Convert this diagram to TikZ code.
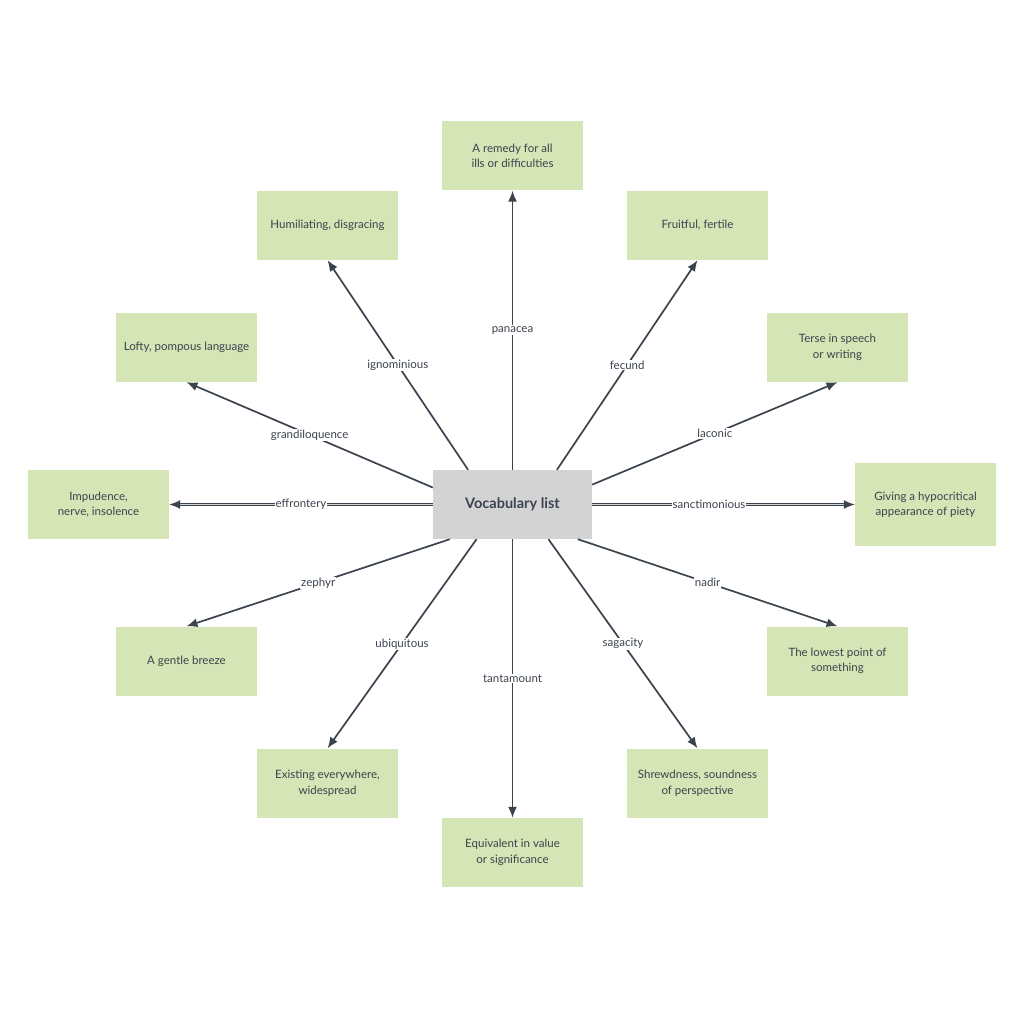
\documentclass[tikz,border=0pt]{standalone}
\usepackage{fontspec}
\setmainfont{Lato}
\usetikzlibrary{arrows.meta}
\definecolor{leaf}{RGB}{213,229,181}
\definecolor{slate}{RGB}{59,67,78}
\definecolor{ash}{RGB}{211,211,211}
\begin{document}
\begin{tikzpicture}[x=1pt,y=-1pt, font=\fontsize{11.5}{15.5}\selectfont, line join=round,
	word/.style={fill=leaf, minimum width=141pt, minimum height=69pt, inner sep=0pt, align=center, text=slate},
	link/.style={-{Latex[length=11pt,width=9pt]}, line width=1.7pt, draw=slate},
	twin/.style={link, double=ash, double distance=0.8pt, line width=1.2pt},
	tag/.style={fill=white, inner sep=1pt, text=slate}]
		\useasboundingbox (0,0) rectangle (1024,1024);
		% centre
		\node[fill=ash, minimum width=159pt, minimum height=69pt, inner sep=0pt, text=slate, font=\fontsize{14.5}{16}\selectfont\bfseries] (voc) at (512.5,504.5) {Vocabulary list};
		% definitions
		\node[word] (pan) at (512.5,156) {A remedy for all\\ills or difficulties};
		\node[word] (fec) at (697.5,225.5) {Fruitful, fertile};
		\node[word] (lac) at (837.5,347.5) {Terse in speech\\or writing};
		\node[word, minimum height=83pt] (san) at (925.5,504.5) {Giving a hypocritical\\appearance of piety};
		\node[word] (nad) at (837.5,661) {The lowest point of\\something};
		\node[word] (sag) at (697.5,783) {Shrewdness, soundness\\of perspective};
		\node[word] (tan) at (512.5,852.5) {Equivalent in value\\or significance};
		\node[word] (ubi) at (327.5,783) {Existing everywhere,\\widespread};
		\node[word] (zep) at (186.5,661) {A gentle breeze};
		\node[word] (eff) at (98.5,504.5) {Impudence,\\nerve, insolence};
		\node[word] (gra) at (186.5,347.5) {Lofty, pompous language};
		\node[word] (ign) at (327.5,225.5) {Humiliating, disgracing};
		% words
		\draw[link] (voc.north) -- node[tag]{panacea} (pan.south);
		\draw[link] (voc.38) -- node[tag]{fecund} (fec.south);
		\draw[link] (voc.14.5) -- node[tag]{laconic} (lac.south);
		\draw[twin] (voc.east) -- node[tag, pos=0.445]{sanctimonious} (san.west);
		\draw[link] (voc.-28.5) -- node[tag]{nadir} (nad.north);
		\draw[link] (voc.-44) -- node[tag]{sagacity} (sag.north);
		\draw[link] (voc.south) -- node[tag]{tantamount} (tan.north);
		\draw[link] (voc.-136) -- node[tag]{ubiquitous} (ubi.north);
		\draw[link] (voc.-151) -- node[tag]{zephyr} (zep.north);
		\draw[twin] (voc.west) -- node[tag]{effrontery} (eff.east);
		\draw[link] (voc.168) -- node[tag]{grandiloquence} (gra.south);
		\draw[link] (voc.142) -- node[tag]{ignominious} (ign.south);
\end{tikzpicture}
\end{document}
